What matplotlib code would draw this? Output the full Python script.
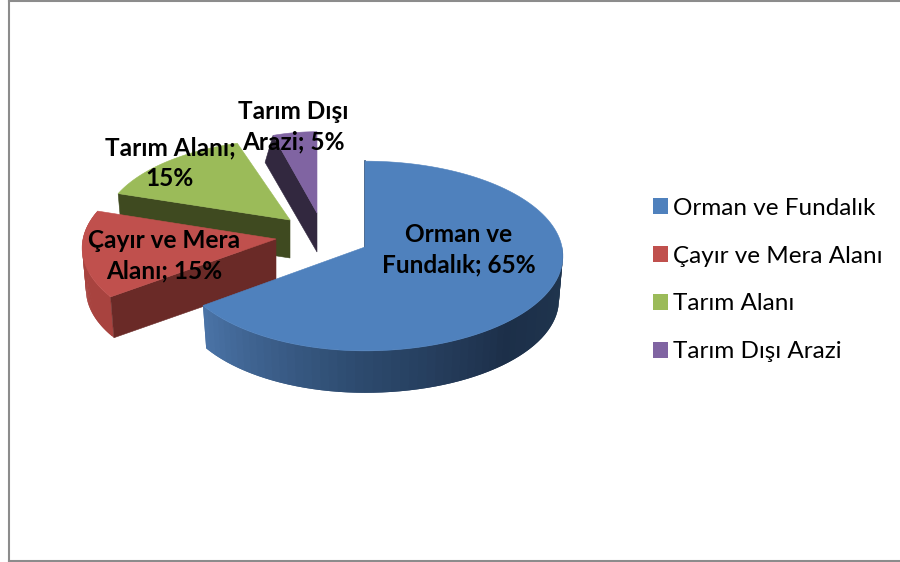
import numpy as np
import matplotlib
matplotlib.use('Agg')
import matplotlib.pyplot as plt
from matplotlib.patches import Patch, Polygon

plt.rcParams['font.family'] = ['Lato', 'DejaVu Sans']

categories = ['Orman ve Fundalık', 'Çayır ve Mera Alanı', 'Tarım Alanı', 'Tarım Dışı Arazi']
values = [65, 15, 15, 5]
label_texts = ['Orman ve\nFundalık; 65%', 'Çayır ve Mera\nAlanı; 15%', 'Tarım Alanı;\n15%', 'Tarım Dışı\nArazi; 5%']

colors = ['#4f81bd', '#c0504d', '#9bbb59', '#8064a2']
cut_colors = ['#2c4a6e', '#6a2a27', '#3f4a20', '#32283f']

# pie layout in pixels: exploded centre of each slice and its radii
centers = [(365, 247), (276, 239), (290, 220), (317, 213)]
radius_x = [197, 193, 186, 155]
radius_y = [94, 93, 88, 89]
depth = [44, 42, 38, 39]
persp = 0.095
label_pos = [(459, 250), (164, 256), (170, 163), (293, 127)]

fig = plt.figure(figsize=(9, 5.62), dpi=100)
ax = fig.add_axes([0, 0, 1, 1])
ax.set_xlim(0, 900)
ax.set_ylim(562, 0)
ax.axis('off')


def rim(i, theta):
    # theta in radians, clockwise from 12 o'clock
    u, v = np.sin(theta), np.cos(theta)
    s = 1 / (1 + persp * v)
    rx = np.where(u < 0, radius_x[i] * 0.96 if i == 0 else radius_x[i], radius_x[i])
    return centers[i][0] + rx * u * s, centers[i][1] - radius_y[i] * v * s


def lower(i, x, y):
    cx, cy = centers[i]
    return cx + 0.98 * (x - cx), cy + 0.98 * (y - cy) + depth[i]


def mix(c1, c2, t):
    a, b = matplotlib.colors.to_rgb(c1), matplotlib.colors.to_rgb(c2)
    return tuple(a[k] + (b[k] - a[k]) * t for k in range(3))


def draw_wall(i, t0, t1, stops):
    # outer wall of the slice, shaded along the arc
    ts = np.linspace(t0, t1, 60)
    for j in range(len(ts) - 1):
        x, y = rim(i, ts[j:j + 3])
        xl, yl = lower(i, x, y)
        f = j / (len(ts) - 2) * (len(stops) - 1)
        k = min(int(f), len(stops) - 2)
        c = mix(stops[k], stops[k + 1], f - k)
        # each piece runs under the next one, so no seams show
        ax.add_patch(Polygon(np.column_stack([np.r_[x, xl[::-1]], np.r_[y, yl[::-1]]]),
                             facecolor=c, edgecolor='none', zorder=2 + (3 - i) * 3))


def draw_top(i, t0, t1):
    ts = np.linspace(t0, t1, 120)
    x, y = rim(i, ts)
    pts = np.column_stack([np.r_[centers[i][0], x], np.r_[centers[i][1], y]])
    ax.add_patch(Polygon(pts, facecolor=colors[i], edgecolor=colors[i], linewidth=0.4, zorder=4 + (3 - i) * 3))


def draw_cut(i, t):
    # flat cut face between the centre and the rim
    cx, cy = centers[i]
    x, y = rim(i, np.array([t]))
    x, y = x[0], y[0]
    xl, yl = lower(i, x, y)
    if i == 3:
        xl, yl = x - 8, y + 27
    pts = [(cx, cy), (x, y), (xl, yl), (cx, cy + depth[i])]
    ax.add_patch(Polygon(pts, facecolor=cut_colors[i], edgecolor=cut_colors[i], linewidth=0.4, zorder=3 + (3 - i) * 3))


edges = np.radians(np.cumsum([0] + values) * 3.6)

draw_wall(0, np.radians(90), edges[1], ['#213750', '#1c2f49', '#2f4d72', '#4a73a6'])
draw_top(0, edges[0], edges[1])
x0, y0 = rim(0, np.array([0.0]))
ax.plot([centers[0][0], x0[0]], [centers[0][1], y0[0]], color='#2c4a6e', linewidth=1.2, zorder=5)

draw_wall(1, edges[1], edges[2], ['#a8433f', '#a8433f'])
draw_cut(1, edges[1])
draw_top(1, edges[1], edges[2])

draw_cut(2, edges[2])
draw_top(2, edges[2], edges[3])

draw_cut(3, edges[3])
draw_top(3, edges[3], edges[4])

for txt, pos in zip(label_texts, label_pos):
    ax.text(pos[0], pos[1], txt, ha='center', va='center', fontsize=17.6, fontweight='bold',
            color='black', linespacing=1.4, zorder=30)

handles = [Patch(facecolor=c, edgecolor='none') for c in colors]
ax.legend(handles, categories, loc='center left', bbox_to_anchor=(653 / 900, 1 - 280 / 562),
          frameon=False, fontsize=17.5, labelspacing=1.11, handlelength=0.62, handleheight=0.62,
          handletextpad=0.22, borderpad=0, borderaxespad=0)

# chart frame
ax.plot([8.5, 8.5], [0, 562], color='#8c8c8c', linewidth=1.5, zorder=40)
ax.plot([8.5, 900], [0.5, 0.5], color='#8c8c8c', linewidth=1.5, zorder=40)
ax.plot([8.5, 900], [561, 561], color='#8c8c8c', linewidth=1.5, zorder=40)

fig.savefig('out.png', dpi=100)
